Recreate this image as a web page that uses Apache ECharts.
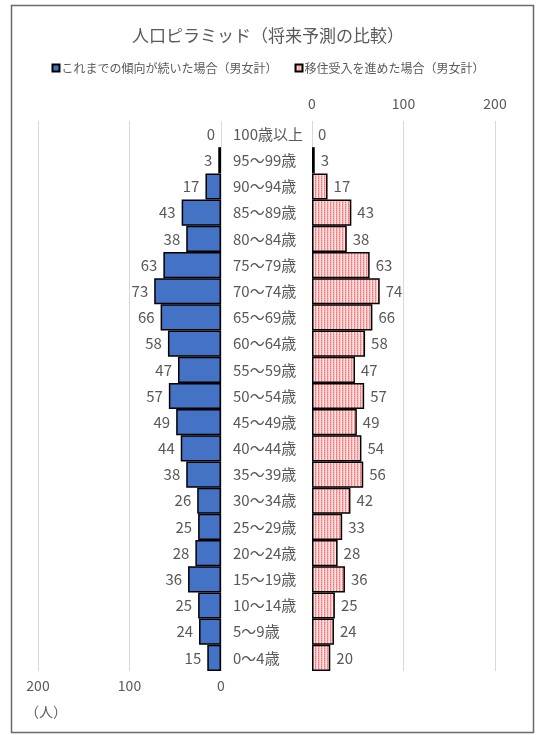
<!DOCTYPE html>
<html><head><meta charset="utf-8">
<script src="https://cdn.jsdelivr.net/npm/echarts@6/dist/echarts.min.js"></script>
<style>html,body{margin:0;padding:0;background:#fff}#c{width:536px;height:735px}</style>
</head><body><div id="c"></div>
<script>
var categories = ['100歳以上','95～99歳','90～94歳','85～89歳','80～84歳','75～79歳','70～74歳','65～69歳','60～64歳','55～59歳','50～54歳','45～49歳','40～44歳','35～39歳','30～34歳','25～29歳','20～24歳','15～19歳','10～14歳','5～9歳','0～4歳'];
var trendValues = [0,3,17,43,38,63,73,66,58,47,57,49,44,38,26,25,28,36,25,24,15];
var migrationValues = [0,3,17,43,38,63,74,66,58,47,57,49,54,56,42,33,28,36,25,24,20];
var axisTicks = [0,100,200];
var seriesNames = ['これまでの傾向が続いた場合（男女計）','移住受入を進めた場合（男女計）'];

var FONT = '"Noto Sans CJK JP", "Noto Sans", sans-serif';
var GRAY = '#595959';

var pc = document.createElement('canvas');
pc.width = 3; pc.height = 2;
var g = pc.getContext('2d');
g.fillStyle = '#ff6e6e'; g.fillRect(0,0,1,1);
g.fillStyle = '#ff9a9a'; g.fillRect(0,1,1,1);
g.fillStyle = '#ffc4c4'; g.fillRect(1,0,1,2);
g.fillStyle = '#ffe6e6'; g.fillRect(2,0,1,2);
var pattern = {image: pc, repeat: 'repeat'};

function toItems(values) {
  return values.map(function (v) {
    return v === 0 ? {value: v, itemStyle: {borderWidth: 0}} : v;
  });
}

var chart = echarts.init(document.getElementById('c'), null, {renderer:'canvas'});
var axisLabelStyle = {color: GRAY, fontSize: 14, fontFamily: FONT};
chart.setOption({
  animation: false,
  textStyle: {fontFamily: FONT},
  title: {text: '人口ピラミッド（将来予測の比較）', left: 'center', top: 22,
    textStyle: {color: GRAY, fontSize: 17, fontWeight: 'normal', fontFamily: FONT}},
  legend: {top: 62, left: 'center', itemWidth: 7, itemHeight: 7, itemGap: 17, icon: 'rect',
    textStyle: {color: GRAY, fontSize: 12, fontFamily: FONT, padding: [0,0,0,-3]}, padding: 0,
    data: seriesNames},
  graphic: [
    {type: 'rect', shape: {x: 11.5, y: 5.5, width: 522, height: 727}, style: {fill: 'none', stroke: '#6a6a6a', lineWidth: 1.5}, z: -1},
    {type: 'text', left: 25, top: 705, style: {text: '（人）', fill: GRAY, font: '14px ' + FONT}}
  ],
  grid: [
    {left: 38, right: 315, top: 121, bottom: 64},
    {left: 312, right: 41, top: 121, bottom: 64}
  ],
  xAxis: [
    {gridIndex: 0, type: 'value', min: axisTicks[0], max: axisTicks[2], interval: axisTicks[1], inverse: true, position: 'bottom',
      axisLine: {show: false}, axisTick: {show: false}, axisLabel: Object.assign({margin: 8}, axisLabelStyle),
      splitLine: {lineStyle: {color: '#d9d9d9'}}},
    {gridIndex: 1, type: 'value', min: axisTicks[0], max: axisTicks[2], interval: axisTicks[1], position: 'top',
      axisLine: {show: false}, axisTick: {show: false}, axisLabel: Object.assign({margin: 10}, axisLabelStyle),
      splitLine: {lineStyle: {color: '#d9d9d9'}}}
  ],
  yAxis: [
    {gridIndex: 0, type: 'category', data: categories, inverse: true, position: 'right',
      axisLine: {show: false}, axisTick: {show: false},
      axisLabel: {margin: 12, align: 'left', color: GRAY, fontSize: 15, fontFamily: FONT}},
    {gridIndex: 1, type: 'category', data: categories, inverse: true,
      axisLine: {show: false}, axisTick: {show: false}, axisLabel: {show: false}}
  ],
  series: [
    {name: seriesNames[0], type: 'bar', xAxisIndex: 0, yAxisIndex: 0, data: toItems(trendValues),
      barCategoryGap: 0, itemStyle: {color: '#4472c4', borderColor: '#000', borderWidth: 1.5},
      label: {show: true, position: 'left', distance: 6, color: GRAY, fontSize: 15, fontFamily: FONT}},
    {name: seriesNames[1], type: 'bar', xAxisIndex: 1, yAxisIndex: 1, data: toItems(migrationValues),
      barCategoryGap: 0, itemStyle: {color: pattern, borderColor: '#000', borderWidth: 1.5},
      label: {show: true, position: 'right', distance: 6, color: GRAY, fontSize: 15, fontFamily: FONT}}
  ]
});
</script></body></html>
